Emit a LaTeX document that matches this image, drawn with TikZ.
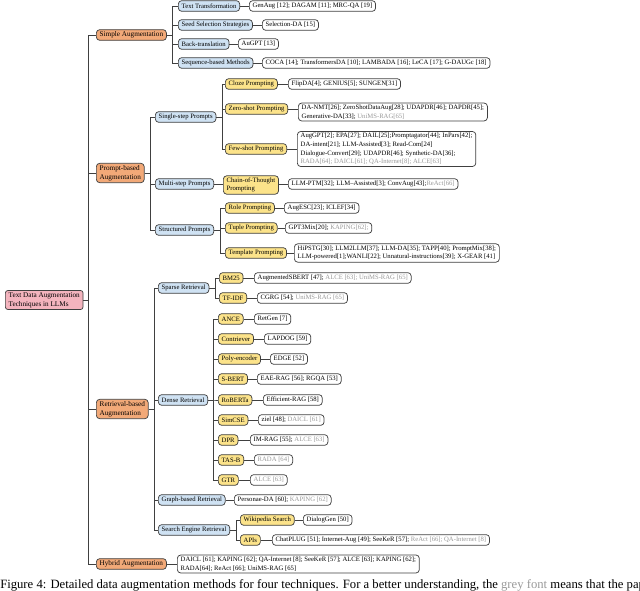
\documentclass[tikz,border=0pt]{standalone}
\usepackage{fontspec}
\setmainfont{Liberation Serif}
\usepackage{xcolor}
\definecolor{corange}{HTML}{F2A978}
\definecolor{cblue}{HTML}{CFE2F3}
\definecolor{cyellow}{HTML}{FCE38A}
\definecolor{cpink}{HTML}{F4B4BE}
\newcommand\gr[1]{\textcolor{black!40}{#1}}
\begin{document}
\begin{tikzpicture}[x=0.75pt,y=-0.75pt,
 base/.style={draw=black!75, rounded corners=2.5pt, line width=0.55pt, inner xsep=2.5pt, inner ysep=1.4pt, minimum height=8pt, font=\fontsize{5.0}{6.4}\selectfont, anchor=west, align=left},
 rootn/.style={base, fill=cpink, rounded corners=2pt, font=\fontsize{5.4}{6.8}\selectfont},
 l1/.style={base, fill=corange, font=\fontsize{5.4}{6.8}\selectfont},
 l2/.style={base, fill=cblue},
 l3/.style={base, fill=cyellow},
 leaf/.style={base, fill=white},
 ln/.style={draw=black!75, line width=0.55pt}]
\useasboundingbox (0,0) rectangle (640,591);
\node[rootn] (root) at (5,300) {Text Data Augmentation\\Techniques in LLMs};
\node[l1] (sa) at (96,35) {Simple Augmentation};
\node[l1] (pa) at (96,173) {Prompt-based\\Augmentation};
\node[l1] (ra) at (96,409) {Retrieval-based\\Augmentation};
\node[l1] (ha) at (96,564) {Hybrid Augmentation};
\foreach \c in {sa,pa,ra,ha} \draw[ln] (root.east) -- ++(5,0) |- (\c.west);
% simple
\node[l2] (tt) at (178,6) {Text Transformation};
\node[l2] (ss) at (178,25) {Seed Selection Strategies};
\node[l2] (bt) at (178,44) {Back-translation};
\node[l2] (sb) at (178,63) {Sequence-based Methods};
\foreach \c in {tt,ss,bt,sb} \draw[ln] (sa.east) -- ++(6,0) |- (\c.west);
\node[leaf] (ltt) at (249,6) {GenAug [12]; DAGAM [11]; MRC-QA [19]};
\node[leaf] (lss) at (262,25) {Selection-DA [15]};
\node[leaf] (lbt) at (238,44) {AuGPT [13]};
\node[leaf] (lsb) at (262,63) {COCA [14]; TransformersDA [10]; LAMBADA [16]; LeCA [17]; G-DAUGc [18]};
\foreach \a/\b in {tt/ltt,ss/lss,bt/lbt,sb/lsb} \draw[ln] (\a.east) -- (\b.west);
% prompt
\node[l2] (sp) at (155,117) {Single-step Prompts};
\node[l2] (mp) at (155,184) {Multi-step Prompts};
\node[l2] (stp) at (155,230) {Structured Prompts};
\foreach \c in {sp,mp,stp} \draw[ln] (pa.east) -- ++(6,0) |- (\c.west);
\node[l3] (cz) at (225,84) {Cloze Prompting};
\node[l3] (zs) at (225,109) {Zero-shot Prompting};
\node[l3] (fs) at (225,149) {Few-shot Prompting};
\foreach \c in {cz,zs,fs} \draw[ln] (sp.east) -- ++(6,0) |- (\c.west);
\node[leaf] (lcz) at (288,84) {FlipDA[4]; GENIUS[5]; SUNGEN[31]};
\node[leaf] (lzs) at (298,112) {DA-NMT[26]; ZeroShotDataAug[28]; UDAPDR[46]; DAPDR[45];\\Generative-DA[33]; \gr{UniMS-RAG[65]}};
\node[leaf] (lfs) at (297,149) {AugGPT[2]; EPA[27]; DAIL[25];Promptagator[44]; InPars[42];\\DA-intent[21]; LLM-Assisted[3]; Read-Com[24]\\Dialogue-Convert[29]; UDAPDR[46]; Synthetic-DA[36];\\\gr{RADA[64]; DAICL[61]; QA-Internet[8]; ALCE[63]}};
\draw[ln] (cz.east) -- (lcz.west);
\draw[ln] (zs.east) -- (zs.east -| lzs.west);
\draw[ln] (fs.east) -- (lfs.west);
\node[l3] (cot) at (223,185) {Chain-of-Thought\\Prompting};
\draw[ln] (mp.east) -- (cot.west |- mp.east);
\node[leaf] (lcot) at (288,184) {LLM-PTM[32]; LLM--Assisted[3]; ConvAug[43];\gr{ReAct[66]}};
\draw[ln] (cot.east |- lcot.west) -- (lcot.west);
\node[l3] (rp) at (225,208) {Role Prompting};
\node[l3] (tp) at (225,228) {Tuple Prompting};
\node[l3] (tmp) at (225,253) {Template Prompting};
\foreach \c in {rp,tp,tmp} \draw[ln] (stp.east) -- ++(6,0) |- (\c.west);
\node[leaf] (lrp) at (284,208) {AugESC[23]; ICLEF[34]};
\node[leaf] (ltp) at (285,228) {GPT3Mix[20]; \gr{KAPING[62];}};
\node[leaf] (ltmp) at (294,253) {HiPSTG[30]; LLM2LLM[37]; LLM-DA[35]; TAPP[40]; PromptMix[38];\\LLM-powered[1];WANLI[22]; Unnatural-instructions[39]; X-GEAR [41]};
\foreach \a/\b in {rp/lrp,tp/ltp,tmp/ltmp} \draw[ln] (\a.east) -- (\b.west);
% retrieval
\node[l2] (sr) at (158,288) {Sparse Retrieval};
\node[l2] (dr) at (158,400) {Dense Retrieval};
\node[l2] (gr) at (158,500) {Graph-based Retrieval};
\node[l2] (se) at (158,530) {Search Engine Retrieval};
\foreach \c in {sr,dr,gr,se} \draw[ln] (ra.east) -- ++(6,0) |- (\c.west);
\node[l3] (bm) at (219,278) {BM25};
\node[l3] (tf) at (219,298) {TF-IDF};
\foreach \c in {bm,tf} \draw[ln] (sr.east) -- ++(6,0) |- (\c.west);
\node[leaf] (lbm) at (254,278) {AugmentedSBERT [47]; \gr{ALCE [63]; UniMS-RAG [65]}};
\node[leaf] (ltf) at (257,298) {CGRG [54]; \gr{UniMS-RAG [65]}};
\draw[ln] (bm.east) -- (lbm.west);
\draw[ln] (tf.east) -- (ltf.west);
\foreach \n/\t/\y/\lx/\lt in {an/ANCE/319/254/{RetGen [7]},
  co/Contriever/339/264/{LAPDOG [59]},
  po/Poly-encoder/359/270/{EDGE [52]},
  sbt/S-BERT/379/257/{EAE-RAG [56]; RGQA [53]},
  rob/RoBERTa/400/263/{Efficient-RAG [58]},
  sim/SimCSE/420/258/{ziel [48]; \gr{DAICL [61]}},
  dpr/DPR/440/250/{IM-RAG [55]; \gr{ALCE [63]}},
  tas/TAS-B/460/254/{\gr{RADA [64]}},
  gtr/GTR/480/250/{\gr{ALCE [63]}}}{
  \node[l3] (\n) at (218,\y) {\t};
  \node[leaf] (l\n) at (\lx,\y) {\lt};
  \draw[ln] (dr.east) -- ++(5,0) |- (\n.west);
  \draw[ln] (\n.east) -- (l\n.west);
}
\node[leaf] (lgr) at (234,500) {Personae-DA [60]; \gr{KAPING [62]}};
\draw[ln] (gr.east) -- (lgr.west);
\node[l3] (ws) at (240,520) {Wikipedia Search};
\node[l3] (api) at (240,540) {APIs};
\foreach \c in {ws,api} \draw[ln] (se.east) -- ++(6,0) |- (\c.west);
\node[leaf] (lws) at (303,520) {DialogGen [50]};
\node[leaf] (lapi) at (272,540) {ChatPLUG [51]; Internet-Aug [49]; SeeKeR [57]; \gr{ReAct [66]; QA-Internet [8]}};
\draw[ln] (ws.east) -- (lws.west);
\draw[ln] (api.east) -- (lapi.west);
\node[leaf] (lha) at (177,564) {DAICL [61]; KAPING [62]; QA-Internet [8]; SeeKeR [57]; ALCE [63]; KAPING [62];\\RADA[64]; ReAct [66]; UniMS-RAG [65]};
\draw[ln] (ha.east) -- (lha.west);
\node[anchor=west, inner sep=0pt, font=\fontsize{9.5}{11}\selectfont] (cap) at (0,585) {Figure 4: Detailed data augmentation methods for four techniques. For a better understanding, the \gr{grey font} means that the paper};
\end{tikzpicture}
\end{document}
